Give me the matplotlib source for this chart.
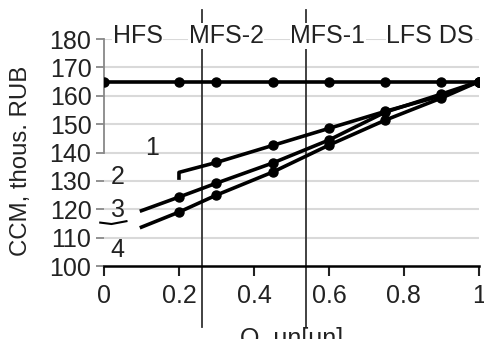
import matplotlib
matplotlib.use("Agg")
import matplotlib.pyplot as plt

plt.rcParams['font.family'] = ['Liberation Sans', 'DejaVu Sans']

# data
x_flat = [0, 0.2, 0.3, 0.45, 0.6, 0.75, 0.9, 1.0]
y_flat = [165, 165, 165, 165, 165, 165, 165, 165]

x1 = [0.2, 0.2, 0.3, 0.45, 0.6, 0.75, 0.9, 1.0]
y1 = [131, 133, 136.5, 142.5, 148.5, 154.5, 160, 165]

x2 = [0.1, 0.2, 0.3, 0.45, 0.6, 0.75, 0.9, 1.0]
y2 = [119.5, 124.3, 129.2, 136.3, 144.4, 154.2, 160.6, 165]

x3 = [0.1, 0.2, 0.3, 0.45, 0.6, 0.75, 0.9, 1.0]
y3 = [113.7, 119, 125, 133.1, 142.6, 151.4, 159.2, 165]

zones = ['HFS', 'MFS-2', 'MFS-1', 'LFS DS']
zone_x = [0.09, 0.326, 0.597, 0.87]
bounds = [0.261, 0.539]

curve_labels = ['1', '2', '3', '4']
curve_lx = [0.128, 0.037, 0.037, 0.035]
curve_ly = [141.5, 131.3, 119.7, 105.6]

fig = plt.figure(figsize=(4.85, 3.39), dpi=100)
ax = fig.add_axes([0.2144, 0.2153, 0.773, 0.6696])

for yy in range(110, 181, 10):
    ax.axhline(yy, color='#d9d9d9', lw=1.5, zorder=0)

for b in bounds:
    ax.axvline(b, ymin=-0.27, ymax=1.13, color='#333333', lw=1.3, clip_on=False, zorder=1)

ms = 6.5
ax.plot(x_flat, y_flat, color='black', lw=2.6, marker='o', ms=ms, zorder=3)
ax.plot(x1, y1, color='black', lw=2.6, marker='o', ms=ms, markevery=list(range(2, 8)), zorder=3)
ax.plot(x2, y2, color='black', lw=2.6, marker='o', ms=ms, markevery=list(range(1, 8)), zorder=3)
ax.plot(x3, y3, color='black', lw=2.6, marker='o', ms=ms, markevery=list(range(1, 8)), zorder=3)

for t, zx in zip(zones, zone_x):
    ax.text(zx, 181, t, ha='center', va='center', fontsize=18, color='#222222',
            bbox=dict(facecolor='white', edgecolor='none', pad=0.5), zorder=2)

for t, lx, ly in zip(curve_labels, curve_lx, curve_ly):
    ax.text(lx, ly, t, ha='center', va='center', fontsize=18, color='#222222')
ax.plot([-0.01, 0.02, 0.06], [115.3, 114.8, 115.8], color='black', lw=1.5, clip_on=False)

ax.set_xlim(0, 1)
ax.set_ylim(100, 180)
ax.set_xticks([0, 0.2, 0.4, 0.6, 0.8, 1])
ax.set_xticklabels(['0', '0.2', '0.4', '0.6', '0.8', '1'])
ax.set_yticks(range(100, 181, 10))

ax.spines['top'].set_visible(False)
ax.spines['right'].set_visible(False)
ax.spines['left'].set_bounds(140, 180)
ax.spines['left'].set_color('#888888')
ax.spines['left'].set_linewidth(1.3)
ax.spines['bottom'].set_linewidth(1.8)

ax.tick_params(axis='x', length=7, width=1.5, pad=6, labelsize=18, colors='#222222')
ax.tick_params(axis='y', length=6, width=1.3, pad=3, labelsize=18, colors='#222222')
ax.tick_params(axis='y', color='#888888')

ax.set_ylabel('CCM, thous. RUB', fontsize=17.3, color='#222222')
ax.yaxis.set_label_coords(-0.192, 0.463)
fig.text(292 / 485, 0.035, 'Q, un[un]', ha='center', va='top', fontsize=18, color='#222222')

fig.savefig('out.png', dpi=100)
